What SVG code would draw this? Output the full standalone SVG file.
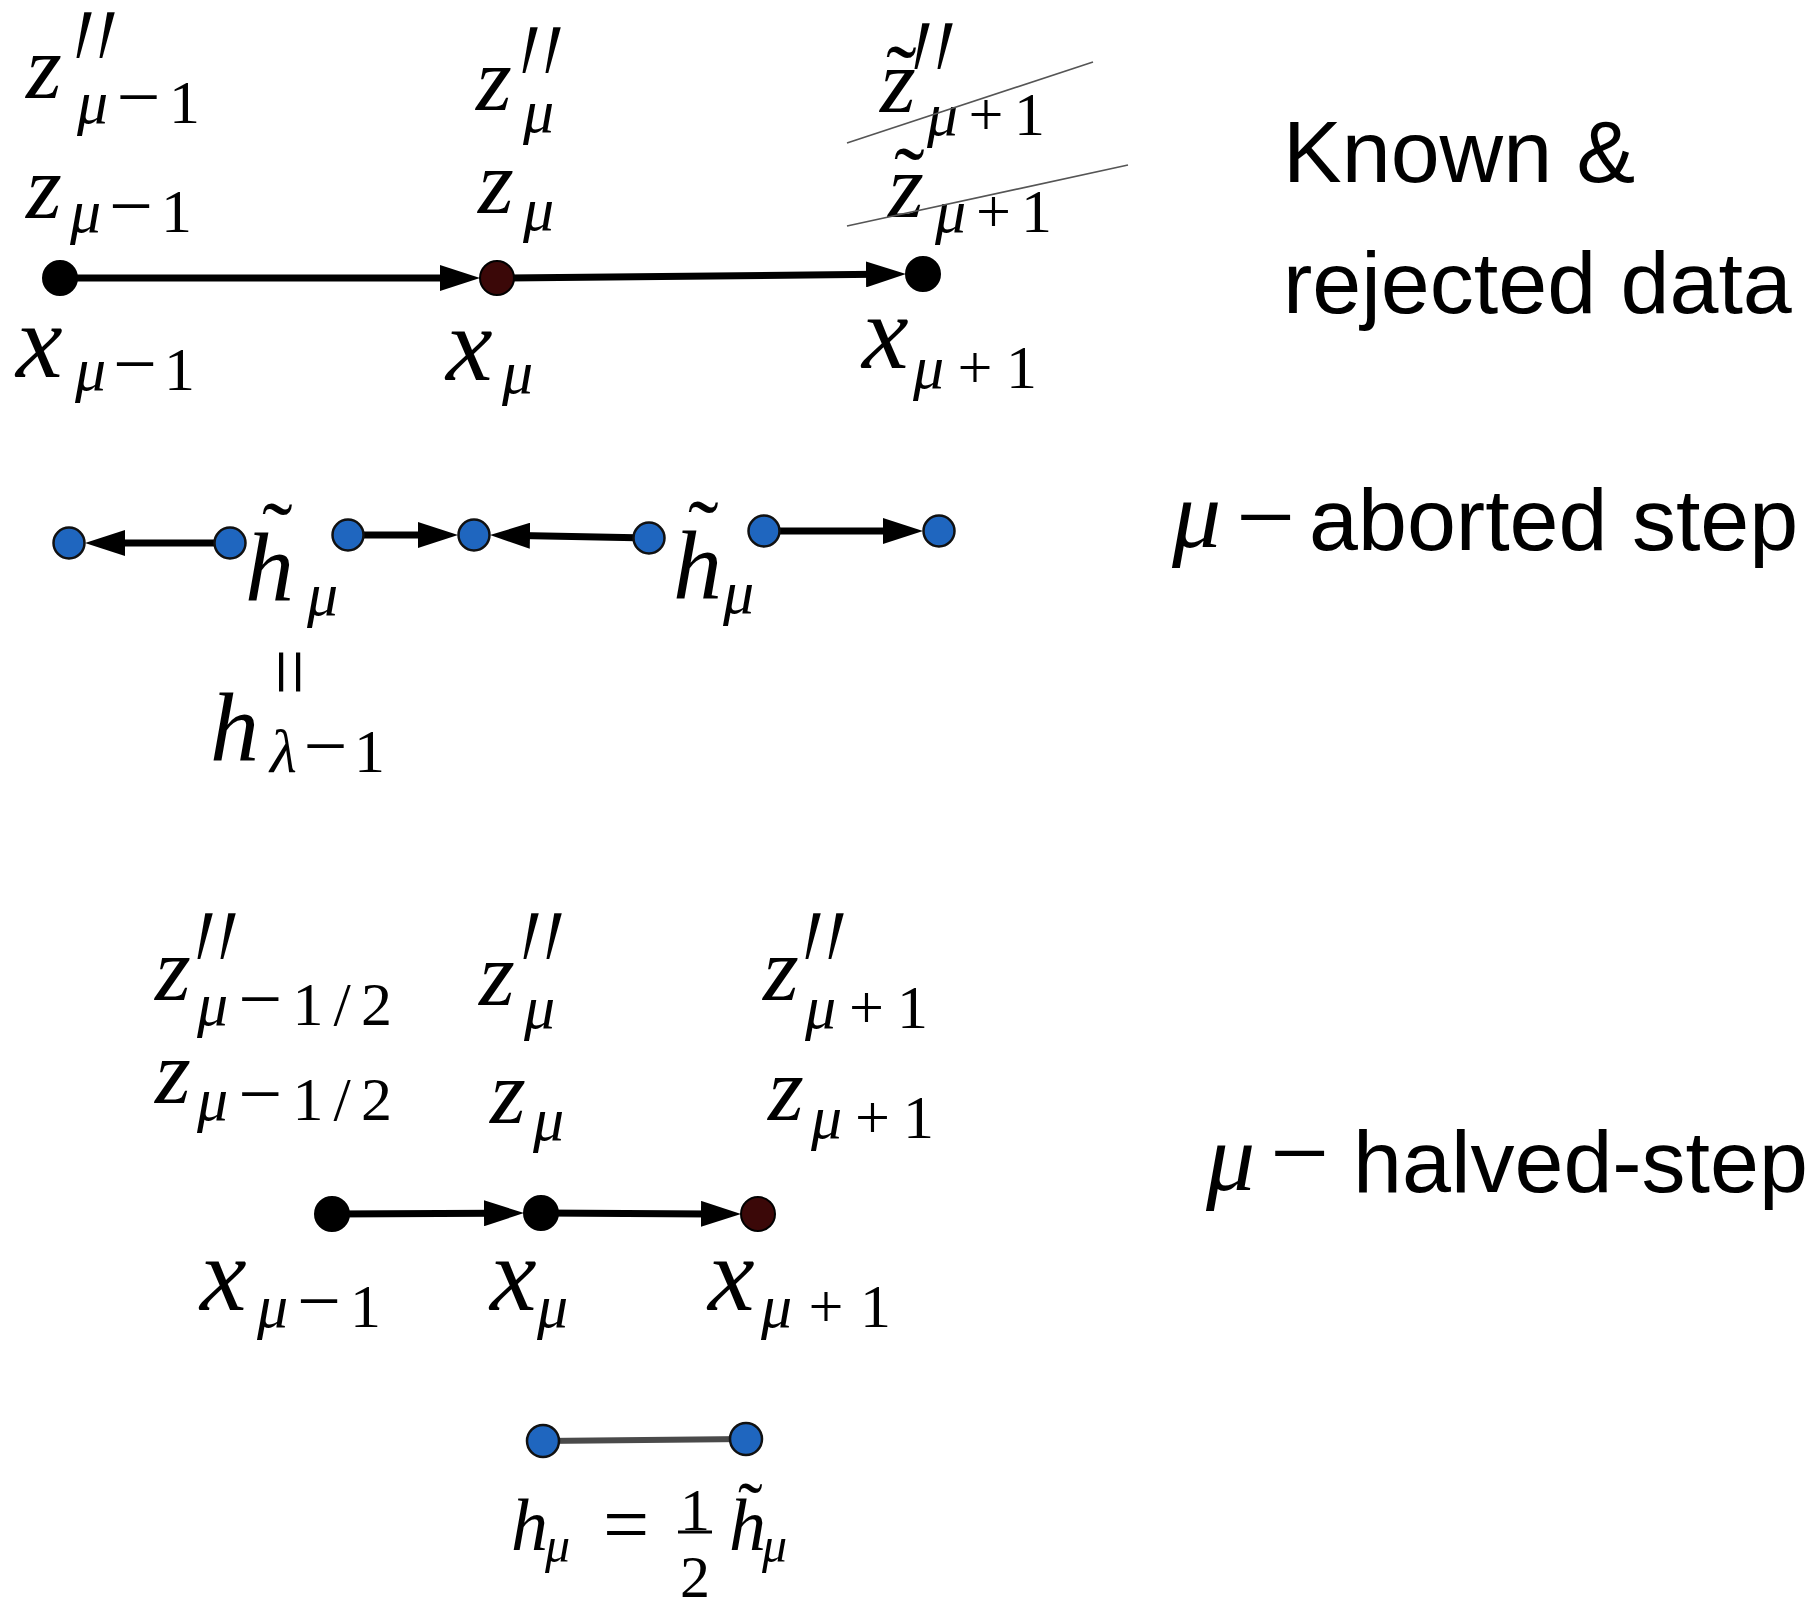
<svg xmlns="http://www.w3.org/2000/svg" width="1816" height="1615" viewBox="0 0 1816 1615">
<style>
.m{font-family:"Liberation Serif",serif;font-style:italic;font-size:92px;fill:#000}
.x{font-size:105px}
.h{font-size:98px}
.s{font-family:"Liberation Serif",serif;font-style:italic;font-size:62px;fill:#000}
.u{font-style:normal}
.mn{font-style:normal;font-size:78px}
.pr{font-family:"Liberation Serif",serif;font-size:130px;letter-spacing:10px;fill:#000}
.t{font-family:"Liberation Serif",serif;font-size:92px;fill:#000}
.lab{font-family:"Liberation Sans",Arial,sans-serif;font-size:88px;fill:#000}
.conn{stroke:#000;stroke-width:7;fill:none}
.kb{fill:#000;stroke:#000;stroke-width:2}
.kr{fill:#3b0808;stroke:#000;stroke-width:2}
.bl{fill:#1f66bf;stroke:#111;stroke-width:2.5}
.strike{stroke:#555;stroke-width:1.6;fill:none}
</style>
<defs>
<marker id="ah" viewBox="0 0 40 26" refX="10" refY="13" markerWidth="40" markerHeight="26" markerUnits="userSpaceOnUse" orient="auto"><path d="M0,0 L40,13 L0,26 Z" fill="#000"/></marker>
</defs>
<rect width="1816" height="1615" fill="#fff"/>

<g id="connectors">
<line class="conn" x1="60" y1="278" x2="450" y2="278" marker-end="url(#ah)"/>
<line class="conn" x1="497" y1="278" x2="876" y2="274.3" marker-end="url(#ah)"/>
<line class="conn" x1="230" y1="543" x2="115" y2="543" marker-end="url(#ah)"/>
<line class="conn" x1="348" y1="535" x2="428" y2="535" marker-end="url(#ah)"/>
<line class="conn" x1="649" y1="538" x2="520" y2="535.6" marker-end="url(#ah)"/>
<line class="conn" x1="764" y1="531" x2="893" y2="531" marker-end="url(#ah)"/>
<line class="conn" x1="332" y1="1214" x2="494" y2="1213.2" marker-end="url(#ah)"/>
<line class="conn" x1="541" y1="1213" x2="711" y2="1213.9" marker-end="url(#ah)"/>
<line x1="543" y1="1441" x2="746" y2="1439" stroke="#4a4a4a" stroke-width="6"/>
</g>

<g id="node-top-xmu-1"><circle class="kb" cx="60" cy="278" r="17"/></g>
<g id="node-top-xmu"><circle class="kr" cx="497" cy="278" r="17"/></g>
<g id="node-top-xmu+1"><circle class="kb" cx="923" cy="274" r="17"/></g>

<g id="node-ab-1"><circle class="bl" cx="69" cy="543" r="15.5"/></g>
<g id="node-ab-2"><circle class="bl" cx="230" cy="543" r="15.5"/></g>
<g id="node-ab-3"><circle class="bl" cx="348" cy="535" r="15.5"/></g>
<g id="node-ab-4"><circle class="bl" cx="474" cy="535" r="15.5"/></g>
<g id="node-ab-5"><circle class="bl" cx="649" cy="538" r="15.5"/></g>
<g id="node-ab-6"><circle class="bl" cx="764" cy="531" r="15.5"/></g>
<g id="node-ab-7"><circle class="bl" cx="939" cy="531" r="15.5"/></g>

<g id="node-hv-xmu-1"><circle class="kb" cx="332" cy="1214" r="17"/></g>
<g id="node-hv-xmu"><circle class="kb" cx="541" cy="1213" r="17"/></g>
<g id="node-hv-xmu+1"><circle class="kr" cx="758" cy="1214" r="17"/></g>

<g id="node-h-1"><circle class="bl" cx="543" cy="1441" r="16"/></g>
<g id="node-h-2"><circle class="bl" cx="746" cy="1439" r="16"/></g>

<g id="labels-top">
<text class="m" x="26" y="98">z</text><text class="pr" transform="translate(62,140) scale(0.6,1.5) skewX(-18)">′′</text>
<text class="s" x="77" y="123" textLength="123" lengthAdjust="spacing">μ<tspan class="mn">−</tspan><tspan class="u">1</tspan></text>
<text class="m" x="26" y="218">z</text>
<text class="s" x="70" y="232" textLength="122" lengthAdjust="spacing">μ<tspan class="mn">−</tspan><tspan class="u">1</tspan></text>
<text class="m x" x="16" y="377">x</text>
<text class="s" x="75" y="390" textLength="120" lengthAdjust="spacing">μ<tspan class="mn">−</tspan><tspan class="u">1</tspan></text>

<text class="m" x="476" y="110">z</text><text class="pr" transform="translate(508,155) scale(0.6,1.5) skewX(-18)">′′</text>
<text class="s" x="523" y="132">μ</text>
<text class="m" x="478" y="213">z</text>
<text class="s" x="523" y="230">μ</text>
<text class="m x" x="446" y="380">x</text>
<text class="s" x="502" y="393">μ</text>

<text class="t" x="886" y="108">˜</text>
<text class="m" x="880" y="112">z</text><text class="pr" transform="translate(900,151) scale(0.6,1.5) skewX(-18)">′′</text>
<text class="s" x="927" y="135" textLength="118" lengthAdjust="spacing">μ<tspan class="u">+1</tspan></text>
<line class="strike" x1="847" y1="143" x2="1093" y2="62"/>
<text class="t" x="894" y="210">˜</text>
<text class="m" x="888" y="217">z</text>
<text class="s" x="935" y="232" textLength="117" lengthAdjust="spacing">μ<tspan class="u">+1</tspan></text>
<line class="strike" x1="847" y1="226" x2="1128" y2="165"/>
<text class="m x" x="862" y="368">x</text>
<text class="s" x="913" y="388" textLength="124" lengthAdjust="spacing">μ<tspan class="u">+1</tspan></text>
</g>

<g id="labels-aborted">
<text class="t" x="262" y="565">˜</text>
<text class="m h" x="245" y="600">h</text>
<text class="s" x="307" y="615">μ</text>
<text class="t" x="688" y="563">˜</text>
<text class="m h" x="673" y="598">h</text>
<text class="s" x="723" y="613">μ</text>
<text class="t" style="font-size:84px" text-anchor="middle" transform="translate(261,672) rotate(90)">=</text>
<text class="m h" x="210" y="760">h</text>
<text class="s" x="270" y="772" textLength="115" lengthAdjust="spacing">λ<tspan class="mn">−</tspan><tspan class="u">1</tspan></text>
</g>

<g id="labels-halved">
<text class="m" x="155" y="1000">z</text><text class="pr" transform="translate(183,1041) scale(0.6,1.5) skewX(-18)">′′</text>
<text class="s" x="197" y="1025" textLength="195" lengthAdjust="spacing">μ<tspan class="mn">−</tspan><tspan class="u">1/2</tspan></text>
<text class="m" x="155" y="1103">z</text>
<text class="s" x="197" y="1120" textLength="195" lengthAdjust="spacing">μ<tspan class="mn">−</tspan><tspan class="u">1/2</tspan></text>
<text class="m" x="479" y="1005">z</text><text class="pr" transform="translate(509,1041) scale(0.6,1.5) skewX(-18)">′′</text>
<text class="s" x="524" y="1028">μ</text>
<text class="m" x="490" y="1123">z</text>
<text class="s" x="533" y="1140">μ</text>
<text class="m" x="763" y="1000">z</text><text class="pr" transform="translate(791,1041) scale(0.6,1.5) skewX(-18)">′′</text>
<text class="s" x="805" y="1028" textLength="123" lengthAdjust="spacing">μ<tspan class="u">+1</tspan></text>
<text class="m" x="768" y="1120">z</text>
<text class="s" x="811" y="1138" textLength="123" lengthAdjust="spacing">μ<tspan class="u">+1</tspan></text>
<text class="m x" x="200" y="1310">x</text>
<text class="s" x="257" y="1327" textLength="124" lengthAdjust="spacing">μ<tspan class="mn">−</tspan><tspan class="u">1</tspan></text>
<text class="m x" x="490" y="1310">x</text>
<text class="s" x="537" y="1327">μ</text>
<text class="m x" x="708" y="1310">x</text>
<text class="s" x="761" y="1327" textLength="130" lengthAdjust="spacing">μ<tspan class="u">+1</tspan></text>
</g>

<g id="label-formula">
<text class="m" style="font-size:74px" x="511" y="1550">h</text>
<text class="s" style="font-size:50px" x="545" y="1562">μ</text>
<text class="t" style="font-size:82px" x="603" y="1552">=</text>
<text class="t" style="font-size:60px" x="680" y="1530">1</text>
<line x1="678" y1="1532" x2="712" y2="1532" stroke="#000" stroke-width="3"/>
<text class="t" style="font-size:60px" x="680" y="1597">2</text>
<text class="t" style="font-size:74px" x="738" y="1534">˜</text>
<text class="m" style="font-size:74px" x="729" y="1550">h</text>
<text class="s" style="font-size:50px" x="762" y="1562">μ</text>
</g>

<g id="side-labels">
<text class="lab" x="1283" y="182">Known &amp;</text>
<text class="lab" x="1283" y="313">rejected data</text>
<text class="m" style="font-size:98px" x="1172" y="547">μ</text>
<text class="t" style="font-size:105px" x="1236" y="552">−</text>
<text class="lab" x="1309" y="550">aborted step</text>
<text class="m" style="font-size:98px" x="1206" y="1190">μ</text>
<text class="t" style="font-size:105px" x="1270" y="1188">−</text>
<text class="lab" x="1353" y="1192">halved-step</text>
</g>
</svg>
